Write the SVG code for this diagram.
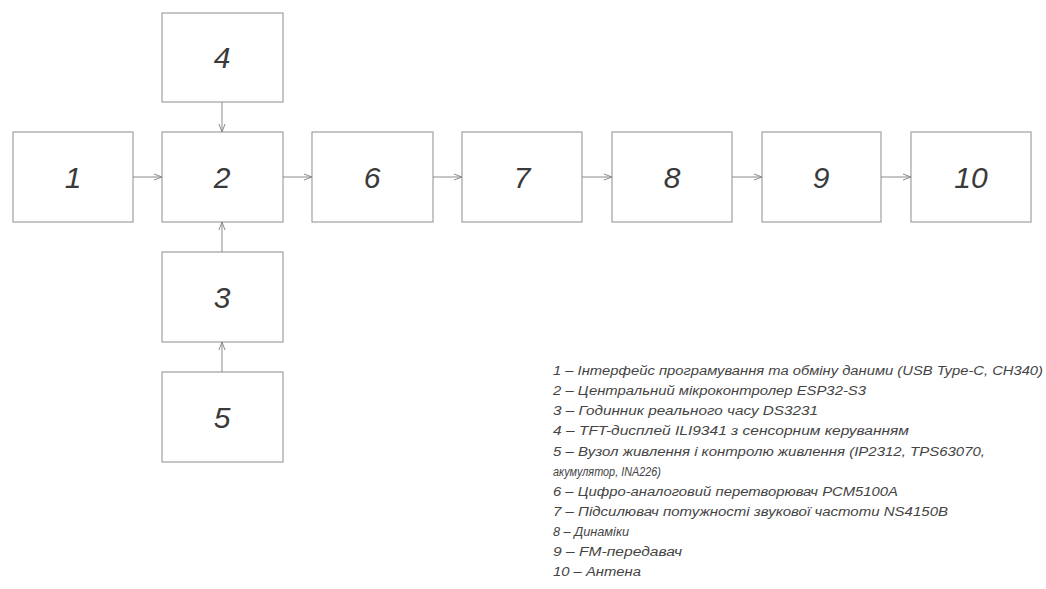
<svg xmlns="http://www.w3.org/2000/svg" width="1046" height="589" viewBox="0 0 1046 589">
<style>
.box{fill:#fff;stroke:#a0a0a0;stroke-width:1.2}
.num{font-family:"Liberation Sans","DejaVu Sans",sans-serif;font-style:italic;font-size:30px;fill:#3a3a3a;text-anchor:middle}
.conn{stroke:#8a8a8a;stroke-width:1;fill:none;marker-end:url(#arr)}
.leg{font-family:"Liberation Sans","DejaVu Sans",sans-serif;font-style:italic;font-size:12.5px;fill:#444}
</style>
<defs>
<marker id="arr" viewBox="0 0 8 8" refX="8" refY="4" markerWidth="8" markerHeight="8" markerUnits="userSpaceOnUse" orient="auto">
<path d="M0,1 L8,4 L0,7" fill="none" stroke="#8a8a8a" stroke-width="1"/>
</marker>
</defs>
<rect width="1046" height="589" fill="#fff"/>
<g id="node1"><rect class="box" x="13" y="132" width="120" height="90"/><text class="num" x="73" y="188">1</text></g>
<g id="node2"><rect class="box" x="162" y="132" width="121" height="90"/><text class="num" x="222" y="188">2</text></g>
<g id="node3"><rect class="box" x="162" y="252" width="121" height="90"/><text class="num" x="222" y="308">3</text></g>
<g id="node4"><rect class="box" x="162" y="13" width="121" height="89"/><text class="num" x="222" y="68">4</text></g>
<g id="node5"><rect class="box" x="162" y="372" width="121" height="90"/><text class="num" x="222" y="428">5</text></g>
<g id="node6"><rect class="box" x="312" y="132" width="121" height="90"/><text class="num" x="372" y="188">6</text></g>
<g id="node7"><rect class="box" x="462" y="132" width="120" height="90"/><text class="num" x="522" y="188">7</text></g>
<g id="node8"><rect class="box" x="612" y="132" width="120" height="90"/><text class="num" x="672" y="188">8</text></g>
<g id="node9"><rect class="box" x="762" y="132" width="119" height="90"/><text class="num" x="821" y="188">9</text></g>
<g id="node10"><rect class="box" x="911" y="132" width="120" height="90"/><text class="num" x="971" y="188">10</text></g>
<g id="connectors">
<line class="conn" x1="133" y1="177" x2="162" y2="177"/>
<line class="conn" x1="222" y1="102" x2="222" y2="132"/>
<line class="conn" x1="222" y1="252" x2="222" y2="222"/>
<line class="conn" x1="222" y1="372" x2="222" y2="342"/>
<line class="conn" x1="283" y1="177" x2="312" y2="177"/>
<line class="conn" x1="433" y1="177" x2="462" y2="177"/>
<line class="conn" x1="582" y1="177" x2="612" y2="177"/>
<line class="conn" x1="732" y1="177" x2="762" y2="177"/>
<line class="conn" x1="881" y1="177" x2="911" y2="177"/>
</g>
<g id="legend">
<text class="leg" x="553" y="375" textLength="490" lengthAdjust="spacingAndGlyphs">1 – Інтерфейс програмування та обміну даними (USB Type-C, CH340)</text>
<text class="leg" x="553" y="395" textLength="313" lengthAdjust="spacingAndGlyphs">2 – Центральний мікроконтролер ESP32-S3</text>
<text class="leg" x="553" y="415" textLength="265" lengthAdjust="spacingAndGlyphs">3 – Годинник реального часу DS3231</text>
<text class="leg" x="553" y="435" textLength="356" lengthAdjust="spacingAndGlyphs">4 – TFT-дисплей ILI9341 з сенсорним керуванням</text>
<text class="leg" x="553" y="456" textLength="432" lengthAdjust="spacingAndGlyphs">5 – Вузол живлення і контролю живлення (IP2312, TPS63070,</text>
<text class="leg" x="553" y="476" textLength="108" lengthAdjust="spacingAndGlyphs">акумулятор, INA226)</text>
<text class="leg" x="553" y="496" textLength="345" lengthAdjust="spacingAndGlyphs">6 – Цифро-аналоговий перетворювач PCM5100A</text>
<text class="leg" x="553" y="516" textLength="395" lengthAdjust="spacingAndGlyphs">7 – Підсилювач потужності звукової частоти NS4150B</text>
<text class="leg" x="553" y="536" textLength="76" lengthAdjust="spacingAndGlyphs">8 – Динаміки</text>
<text class="leg" x="553" y="556" textLength="129" lengthAdjust="spacingAndGlyphs">9 – FM-передавач</text>
<text class="leg" x="553" y="576" textLength="88" lengthAdjust="spacingAndGlyphs">10 – Антена</text>
</g>
</svg>
